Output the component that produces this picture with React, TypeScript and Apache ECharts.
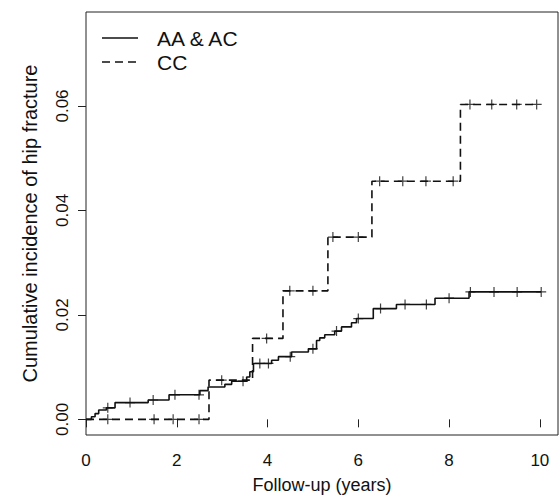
import React, { useEffect, useRef } from "react";
import * as echarts from "echarts";

const FONT = '"Liberation Sans", Arial, Helvetica, sans-serif';
const INK = "#111";

const xTicks = [0, 2, 4, 6, 8, 10];
const yTicks = [0, 0.02, 0.04, 0.06];

const seriesNames = ["AA & AC", "CC"];

const aaTimes = [0, 0.12, 0.2, 0.28, 0.45, 0.64, 1.37, 1.83, 2.51, 2.69, 3.06, 3.21, 3.54, 3.61, 3.69, 4.09, 4.24, 4.53, 4.9, 5.08, 5.15, 5.26, 5.48, 5.63, 5.85, 5.96, 6.33, 6.84, 7.69, 8.44];
const aaIncidence = [0, 0.0005, 0.0011, 0.0018, 0.0022, 0.0032, 0.0037, 0.0047, 0.0055, 0.0062, 0.0067, 0.0073, 0.0081, 0.0091, 0.0107, 0.0113, 0.012, 0.0129, 0.0135, 0.0151, 0.0156, 0.0162, 0.0169, 0.0177, 0.0185, 0.0193, 0.0212, 0.022, 0.0232, 0.0244];
const aaCensored = [0.48, 0.97, 1.48, 1.96, 2.49, 3.46, 3.83, 4.02, 4.5, 5.0, 5.52, 6.0, 6.49, 7.03, 7.5, 8.0, 8.47, 8.99, 9.5, 10.03];

const ccTimes = [0, 2.71, 3.67, 4.34, 5.33, 6.3, 8.25];
const ccIncidence = [0, 0.0075, 0.0155, 0.0246, 0.0349, 0.0456, 0.0603];
const ccCensored = [0.48, 1.5, 1.92, 2.49, 2.99, 3.98, 4.49, 5.0, 5.44, 6.0, 6.47, 6.98, 7.49, 8.09, 8.46, 8.94, 9.49, 9.93];

function stepPoints(times: number[], vals: number[], censored: number[]) {
  const pts = times.map((t, i) => [t, vals[i]]);
  const last = Math.max(...censored, times[times.length - 1]);
  pts.push([last, vals[vals.length - 1]]);
  return pts;
}

function valueAt(times: number[], vals: number[], t: number) {
  let v = vals[0];
  for (let i = 0; i < times.length; i++) {
    if (times[i] <= t) v = vals[i];
  }
  return v;
}

const PLUS = "path://M4.4,0H5.6V4.4H10V5.6H5.6V10H4.4V5.6H0V4.4H4.4Z";

export default function App() {
  const ref = useRef<HTMLDivElement>(null);
  useEffect(() => {
    if (!ref.current) return;
    const chart = echarts.init(ref.current, undefined, { renderer: "svg" });
    const option: any = {
      animation: false,
      backgroundColor: "#fff",
      textStyle: { fontFamily: FONT },
      grid: {
        left: 86,
        right: 1,
        top: 12,
        bottom: 62,
        show: true,
        borderColor: "#222",
        borderWidth: 1,
        backgroundColor: "transparent",
      },
      xAxis: {
        type: "value",
        min: 0,
        max: 10.4,
        name: "Follow-up (years)",
        nameLocation: "middle",
        nameGap: 41,
        nameTextStyle: { fontSize: 18, color: INK, fontFamily: FONT },
        axisLine: { show: false },
        axisTick: { show: true, length: 8, customValues: xTicks, lineStyle: { color: "#222" } },
        axisLabel: {
          customValues: xTicks,
          fontSize: 17,
          color: INK,
          fontFamily: FONT,
          margin: 17,
          formatter: (v: number) => String(v),
        },
        splitLine: { show: false },
      },
      yAxis: {
        type: "value",
        min: -0.003,
        max: 0.078,
        name: "Cumulative incidence of hip fracture",
        nameLocation: "middle",
        nameGap: 46,
        nameTextStyle: { fontSize: 20, color: INK, fontFamily: FONT },
        axisLine: { show: false },
        axisTick: { show: true, length: 8, customValues: yTicks, lineStyle: { color: "#222" } },
        axisLabel: {
          customValues: yTicks,
          rotate: 90,
          fontSize: 17,
          color: INK,
          fontFamily: FONT,
          margin: 15,
          formatter: (v: number) => v.toFixed(2),
        },
        splitLine: { show: false },
      },
      graphic: [
        { type: "line", shape: { x1: 102, y1: 38, x2: 138, y2: 38 }, style: { stroke: INK, lineWidth: 1.6 } },
        { type: "line", shape: { x1: 102, y1: 62, x2: 138, y2: 62 }, style: { stroke: INK, lineWidth: 1.6, lineDash: [8, 5] } },
        { type: "text", x: 157, y: 38, style: { text: seriesNames[0], fontSize: 21, fontFamily: FONT, fill: INK, verticalAlign: "middle" } },
        { type: "text", x: 157, y: 62, style: { text: seriesNames[1], fontSize: 21, fontFamily: FONT, fill: INK, verticalAlign: "middle" } },
      ],
      series: [
        {
          name: seriesNames[0],
          type: "line",
          step: "end",
          showSymbol: false,
          data: stepPoints(aaTimes, aaIncidence, aaCensored),
          lineStyle: { color: INK, width: 1.6 },
          z: 3,
        },
        {
          name: seriesNames[1],
          type: "line",
          step: "end",
          showSymbol: false,
          data: stepPoints(ccTimes, ccIncidence, ccCensored),
          lineStyle: { color: INK, width: 1.6, type: [8, 5] },
          z: 3,
        },
        {
          name: seriesNames[0] + " censored",
          type: "scatter",
          symbol: PLUS,
          symbolSize: 10,
          data: aaCensored.map((t) => [t, valueAt(aaTimes, aaIncidence, t)]),
          itemStyle: { color: INK },
          z: 4,
        },
        {
          name: seriesNames[1] + " censored",
          type: "scatter",
          symbol: PLUS,
          symbolSize: 10,
          data: ccCensored.map((t) => [t, valueAt(ccTimes, ccIncidence, t)]),
          itemStyle: { color: INK },
          z: 4,
        },
      ],
    };
    chart.setOption(option);
    return () => chart.dispose();
  }, []);
  return (
    <div
      ref={ref}
      style={{ position: "absolute", left: 0, top: 0, width: 559, height: 499 }}
    />
  );
}
